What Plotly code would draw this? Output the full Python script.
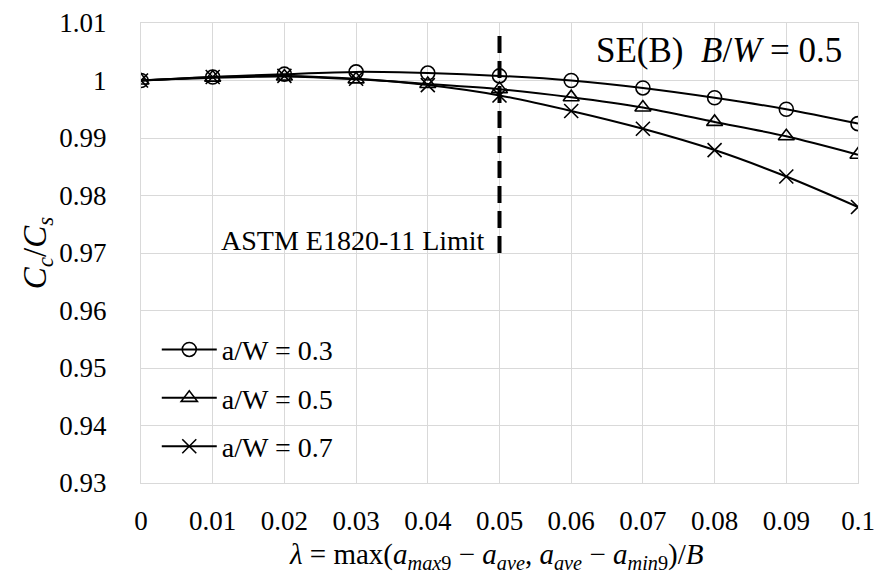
import plotly.graph_objects as go

lam = [0, 0.01, 0.02, 0.03, 0.04, 0.05, 0.06, 0.07, 0.08, 0.09, 0.1]
aw03 = [1.0000, 1.0006, 1.0011, 1.0015, 1.0013, 1.0008, 1.0000, 0.9987, 0.9970, 0.9950, 0.9925]
aw05 = [1.0000, 1.0005, 1.0007, 1.0002, 0.9994, 0.9985, 0.9971, 0.9953, 0.9928, 0.9903, 0.9871]
aw07 = [1.0000, 1.0006, 1.0008, 1.0003, 0.9992, 0.9974, 0.9947, 0.9916, 0.9879, 0.9833, 0.9780]
names = ["a/W = 0.3", "a/W = 0.5", "a/W = 0.7"]
symbols = ["circle-open", "triangle-up-open", "x-thin-open"]

limit_x = [0.05, 0.05]
limit_y = [0.970, 1.0083]

yticks = [0.93, 0.94, 0.95, 0.96, 0.97, 0.98, 0.99, 1.0, 1.01]
ytext = ["0.93", "0.94", "0.95", "0.96", "0.97", "0.98", "0.99", "1", "1.01"]
xticks = lam
xtext = ["0", "0.01", "0.02", "0.03", "0.04", "0.05", "0.06", "0.07", "0.08", "0.09", "0.1"]

FONT = "Liberation Serif"
XTITLE = ("<i>λ</i> = max(<i>a</i><sub><i>max</i>9</sub> − <i>a</i><sub><i>ave</i></sub>, "
          "<i>a</i><sub><i>ave</i></sub> − <i>a</i><sub><i>min</i>9</sub>)/<i>B</i>")

fig = go.Figure()
for i, (ys, nm, sym) in enumerate(zip([aw03, aw05, aw07], names, symbols)):
    fig.add_trace(go.Scatter(
        x=lam, y=ys, name=nm, mode="lines+markers",
        line=dict(color="black", width=2, shape="spline", smoothing=0.8),
        marker=dict(symbol=sym, size=14,
                    color="black", line=dict(color="black", width=1.6)),
        legendgroup=str(i),
    ))

fig.add_trace(go.Scatter(
    x=limit_x, y=limit_y, mode="lines", showlegend=False,
    line=dict(color="black", width=4, dash="17px,8px"),
))

fig.add_annotation(x=0.0483, y=0.9721, xref="x", yref="y", text="ASTM E1820-11 Limit",
                   showarrow=False, xanchor="right", yanchor="middle",
                   font=dict(family=FONT, size=28, color="black"))
fig.add_annotation(x=0.0981, y=1.0053, xref="x", yref="y",
                   text="SE(B)  <i>B</i>/<i>W</i> = 0.5",
                   showarrow=False, xanchor="right", yanchor="middle",
                   font=dict(family=FONT, size=35, color="black"))
fig.add_annotation(x=0.4965, y=-0.158, xref="paper", yref="paper", text=XTITLE,
                   showarrow=False, xanchor="center", yanchor="middle",
                   font=dict(family=FONT, size=29, color="black"))

fig.update_layout(
    width=880, height=576,
    margin=dict(l=141, r=22, t=23, b=93),
    paper_bgcolor="white", plot_bgcolor="white",
    font=dict(family=FONT, size=27, color="black"),
    showlegend=True,
    legend=dict(x=0.022, y=0.344, xanchor="left", yanchor="top",
                bgcolor="rgba(255,255,255,0)", font=dict(family=FONT, size=28, color="black"),
                itemwidth=55, tracegroupgap=9, traceorder="grouped"),
    xaxis=dict(range=[0, 0.1], tickvals=xticks, ticktext=xtext, automargin=False,
               showgrid=True, gridcolor="#d9d9d9", gridwidth=1.3,
               showline=True, linecolor="#d9d9d9", linewidth=1.3, mirror=True,
               zeroline=False, ticks="", ticklabelstandoff=13,
               tickfont=dict(family=FONT, size=27, color="black")),
    yaxis=dict(range=[0.93, 1.01], tickvals=yticks, ticktext=ytext, automargin=False,
               showgrid=True, gridcolor="#d9d9d9", gridwidth=1.3,
               showline=True, linecolor="#d9d9d9", linewidth=1.3, mirror=True,
               zeroline=False, ticks="", ticklabelstandoff=28,
               tickfont=dict(family=FONT, size=27, color="black"),
               title=dict(text="<i>C<sub>c</sub></i>/<i>C<sub>s</sub></i>",
                          font=dict(family=FONT, size=33, color="black"), standoff=2)),
)

fig.write_html("out.html")
